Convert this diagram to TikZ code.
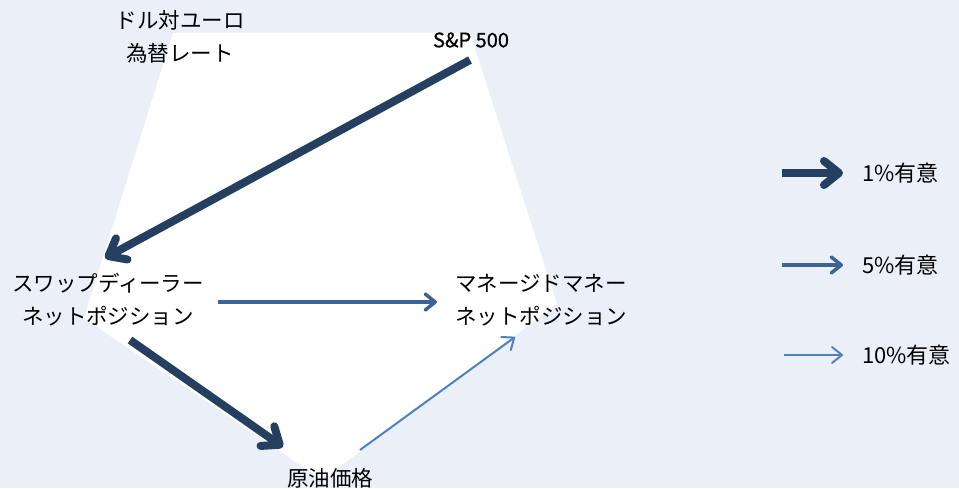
\documentclass[tikz,border=0pt]{standalone}
\usepackage{fontspec}
\setmainfont{Noto Sans CJK JP}
\newfontfamily\spfont{Noto Sans CJK JP}[FakeBold=0.7]
\usetikzlibrary{arrows.meta}
\definecolor{bg}{HTML}{EBF0F8}
\definecolor{cone}{HTML}{243F60}
\definecolor{cfive}{HTML}{3A6396}
\definecolor{cten}{HTML}{4F81BD}
\begin{document}
\begin{tikzpicture}[x=1pt,y=-1pt,
  lbl/.style={font=\fontsize{21.5}{33}\selectfont, align=center, inner sep=0pt, text=black},
  leg/.style={font=\fontsize{22}{25}\selectfont, anchor=west, inner sep=0pt},
  aone/.style={draw=cone, line width=8pt, line cap=butt,
    -{Straight Barb[length=15pt,width=24pt,line cap=round,line join=round]}},
  afive/.style={draw=cfive, line width=3.5pt,
    -{Straight Barb[length=10pt,width=16pt,line cap=round,line join=round]}},
  aten/.style={draw=cten, line width=2pt,
    -{Straight Barb[length=10pt,width=16pt,line cap=round,line join=round]}}]
\fill[bg] (0,0) rectangle (959,488);
\useasboundingbox (0,0) rectangle (959,488);
\fill[white] (173,33) -- (470,33) -- (557,304) -- (322,480) -- (84,318) -- cycle;

\node[lbl] (usd) at (180,37) {ドル対ユーロ\\為替レート};
\node[lbl, font=\fontsize{20}{22}\spfont] (sp) at (471,40) {S\&P 500};
\node[lbl] (swap) at (108,300) {スワップディーラー\\ネットポジション};
\node[lbl] (mm) at (541,300) {マネージドマネー\\ネットポジション};
\node[lbl] (oil) at (330,478) {原油価格};

\draw[aone] ([shift={(-1pt,-20pt)}]sp.center) -- ([shift={(-3pt,42pt)}]swap.center);
\draw[afive] ([shift={(110pt,-2pt)}]swap.center) -- ([shift={(-104pt,-2pt)}]mm.center);
\draw[aone] ([shift={(22pt,-40pt)}]swap.center) -- ([shift={(-47pt,31pt)}]oil.center);
\draw[aten] ([shift={(30pt,28pt)}]oil.center) -- ([shift={(-26pt,-37pt)}]mm.center);

\node[leg] (l1) at (862,173) {1\%有意};
\node[leg] (l5) at (862,265) {5\%有意};
\node[leg] (l10) at (862,355) {10\%有意};
\draw[aone] ([xshift=-80pt]l1.west) -- ([xshift=-19pt]l1.west);
\draw[afive] ([xshift=-80pt]l5.west) -- ([xshift=-19pt]l5.west);
\draw[aten] ([xshift=-78pt]l10.west) -- ([xshift=-19pt]l10.west);
\end{tikzpicture}
\end{document}
